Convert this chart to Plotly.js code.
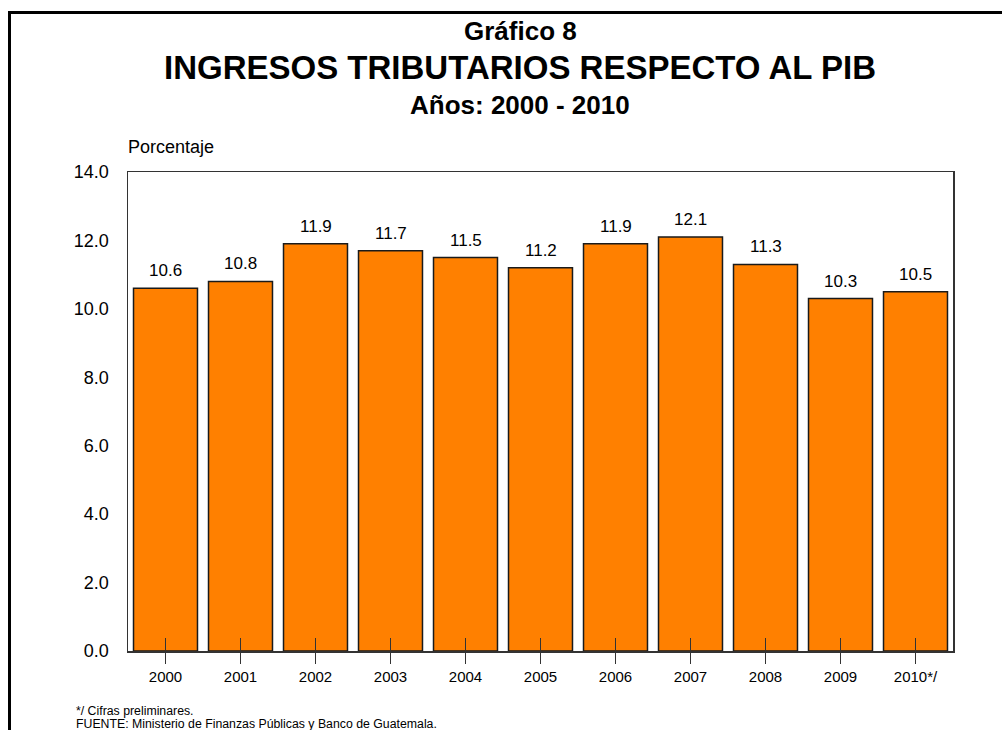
<!DOCTYPE html>
<html>
<head>
<meta charset="utf-8">
<script src="https://cdn.plot.ly/plotly-3.0.1.min.js"></script>
<style>
html,body{margin:0;padding:0;width:1002px;height:730px;overflow:hidden;background:#fff;}
#frame{position:absolute;left:8px;top:11px;width:1100px;height:800px;border:3px solid #000;box-sizing:border-box;}
#chart{position:absolute;left:0;top:0;width:1002px;height:730px;}
</style>
</head>
<body>
<div id="frame"></div>
<div id="chart"></div>
<script>
const categories = ["2000","2001","2002","2003","2004","2005","2006","2007","2008","2009","2010*/"];
const values = [10.6, 10.8, 11.9, 11.7, 11.5, 11.2, 11.9, 12.1, 11.3, 10.3, 10.5];
const yTicks = [0, 2, 4, 6, 8, 10, 12, 14];

const FONT = "Liberation Sans, Arial, sans-serif";

const data = [{
  type: "bar",
  x: categories,
  y: values,
  marker: {color: "#FF8000", line: {color: "#1a1a1a", width: 1.5}},
  hoverinfo: "x+y"
}, {
  type: "scatter",
  x: categories,
  y: values,
  xaxis: "x2",
  mode: "markers",
  marker: {opacity: 0, size: 1},
  hoverinfo: "skip"
}];

// value labels placed at each category's index on the category axis
const valueLabels = categories.map((c, i) => ({
  text: values[i].toFixed(1),
  x: i, y: values[i], xref: "x", yref: "y",
  showarrow: false, yanchor: "bottom", yshift: 6,
  font: {family: FONT, size: 17, color: "#000"}
}));

const layout = {
  width: 1002, height: 730,
  margin: {l: 128, r: 49, t: 172, b: 79},
  paper_bgcolor: "rgba(0,0,0,0)",
  plot_bgcolor: "rgba(0,0,0,0)",
  showlegend: false,
  bargap: 0.147,
  font: {family: FONT, color: "#000"},
  xaxis: {
    type: "category",
    range: [-0.5, categories.length - 0.5],
    showline: true, mirror: true, linecolor: "#333", linewidth: 1.5,
    ticks: "outside", ticklen: 11, tickwidth: 1.2, tickcolor: "#333",
    tickfont: {family: FONT, size: 15, color: "#000"},
    showgrid: false, zeroline: false, fixedrange: true
  },
  xaxis2: {
    type: "category",
    overlaying: "x",
    anchor: "y",
    side: "bottom",
    range: [-0.5, categories.length - 0.5],
    showticklabels: false,
    ticks: "inside", ticklen: 13, tickwidth: 1.2, tickcolor: "#333",
    showline: false, showgrid: false, zeroline: false, fixedrange: true
  },
  yaxis: {
    range: [0, 14],
    tickmode: "array",
    tickvals: yTicks,
    ticktext: yTicks.map(v => v.toFixed(1)),
    ticks: "", ticklabelstandoff: 14,
    showline: true, mirror: true, linecolor: "#333", linewidth: 1.5,
    tickfont: {family: FONT, size: 18, color: "#000"},
    showgrid: false, zeroline: false, fixedrange: true
  },
  annotations: valueLabels.concat([
    {text: "<b>Gráfico 8</b>", xref: "paper", yref: "paper", x: 0.4755, y: 1.295, showarrow: false,
     font: {family: FONT, size: 26, color: "#000"}, xanchor: "center", yanchor: "middle"},
    {text: "<b>INGRESOS TRIBUTARIOS RESPECTO AL PIB</b>", xref: "paper", yref: "paper", x: 0.4755, y: 1.218, showarrow: false,
     font: {family: FONT, size: 33, color: "#000"}, xanchor: "center", yanchor: "middle"},
    {text: "<b>Años: 2000 - 2010</b>", xref: "paper", yref: "paper", x: 0.4755, y: 1.14, showarrow: false,
     font: {family: FONT, size: 26, color: "#000"}, xanchor: "center", yanchor: "middle"},
    {text: "Porcentaje", xref: "paper", yref: "paper", x: -0.002, y: 1.052, showarrow: false,
     font: {family: FONT, size: 18, color: "#000"}, xanchor: "left", yanchor: "middle"},
    {text: "*/ Cifras preliminares.", xref: "paper", yref: "paper", x: -0.0655, y: -0.125, showarrow: false,
     font: {family: FONT, size: 12.3, color: "#000"}, xanchor: "left", yanchor: "middle"},
    {text: "FUENTE: Ministerio de Finanzas Públicas y Banco de Guatemala.", xref: "paper", yref: "paper", x: -0.0655, y: -0.152, showarrow: false,
     font: {family: FONT, size: 12.3, color: "#000"}, xanchor: "left", yanchor: "middle"}
  ])
};

Plotly.newPlot("chart", data, layout, {displayModeBar: false, staticPlot: true});
</script>
</body>
</html>
